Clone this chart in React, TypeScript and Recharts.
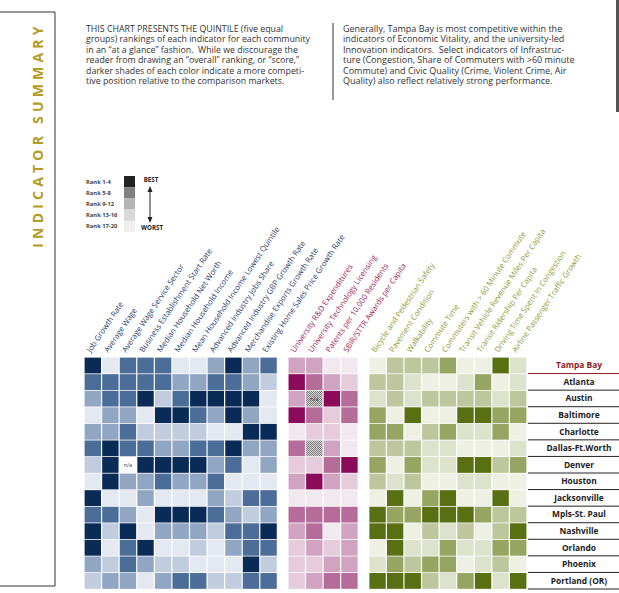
import React from "react";
import { BarChart, Bar, XAxis, YAxis } from "recharts";

const cities = [
  "Tampa Bay", "Atlanta", "Austin", "Baltimore", "Charlotte", "Dallas-Ft.Worth", "Denver",
  "Houston", "Jacksonville", "Mpls-St. Paul", "Nashville", "Orlando", "Phoenix", "Portland (OR)",
];

const economicLabels = [
  "Job Growth Rate", "Average Wage", "Average Wage Service Sector", "Business Establishment Start Rate",
  "Median Household Net Worth", "Median Household Income", "Mean Household Income Lowest Quintile",
  "Advanced Industry Jobs Share", "Advanced Industry GBP Growth Rate", "Merchandise Exports Growth Rate",
  "Existing Home Sales Price Growth Rate",
];
const innovationLabels = [
  "University R&D Expenditures", "University Technology Licensing",
  "Patents per 10,000 Residents", "SBIR/STTR Awards per Capita",
];
const infrastructureLabels = [
  "Bicycle and Pedestrian Safety", "Pavement Condition", "Walkability", "Commute Time",
  "Commuters with > 60 Minute Commute", "Transit Vehicle Revenue Miles Per Capita",
  "Transit Ridership Per Capita", "Driving Time Spent In Congestion", "Airline Passenger Traffic Growth",
];

// quintile: 1 = rank 1-4 (best) ... 5 = rank 17-20 (worst); "na" = n/a, "x" = no data
type Q = number | "na" | "x";
const economicRanks: Q[][] = [
  [1, 5, 2, 2, 2, 5, 5, 3, 1, 3, 2],
  [2, 2, 2, 2, 2, 3, 3, 2, 2, 3, 4],
  [3, 2, 2, 1, 4, 2, 1, 1, 1, 1, 5],
  [5, 3, 3, 5, 1, 1, 2, 3, 1, 3, 5],
  [3, 3, 2, 4, 4, 4, 4, 5, 5, 1, 1],
  [2, 1, 2, 2, 3, 3, 2, 2, 1, 3, 3],
  [4, 1, "na", 1, 1, 1, 1, 3, 2, 5, 3],
  [5, 1, 3, 3, 2, 3, 3, 2, 5, 5, 5],
  [1, 5, 5, 3, 5, 5, 5, 3, 4, 2, 2],
  [2, 2, 3, 5, 1, 1, 1, 2, 3, 4, 3],
  [1, 4, 1, 5, 3, 3, 3, 4, 2, 2, 1],
  [1, 5, 2, 1, 5, 5, 4, 5, 3, 2, 2],
  [3, 4, 2, 3, 4, 4, 5, 5, 5, 1, 4],
  [4, 3, 3, 5, 3, 2, 2, 4, 4, 2, 2],
];
const innovationRanks: Q[][] = [
  [3, 3, 5, 5],
  [1, 2, 3, 4],
  [3, "na", 1, 2],
  [1, 2, 4, 2],
  [5, 4, 4, 5],
  [2, "x", 3, 5],
  [4, 4, 2, 1],
  [3, 1, 3, 4],
  [5, 5, 5, 5],
  [2, 2, 2, 2],
  [3, 2, 5, 3],
  [4, 3, 4, 3],
  [4, 4, 3, 3],
  [4, 3, 2, 2],
];
const infrastructureRanks: Q[][] = [
  [5, 3, 3, 3, 2, 5, 5, 1, 4],
  [3, 3, 4, 5, 5, 4, 2, 5, 4],
  [4, 3, 4, 3, 3, 3, 3, 4, 3],
  [2, 5, 1, 5, 5, 1, 1, 2, 2],
  [2, 2, 5, 3, 2, 4, 4, 2, 5],
  [3, 3, 3, 4, 4, 5, 5, 5, 4],
  [2, 5, 2, 4, 4, 1, 1, 3, 2],
  [3, 4, 3, 5, 5, 4, 4, 5, 5],
  [5, 1, 5, 2, 1, 5, 5, 1, 5],
  [1, 2, 2, 1, 1, 1, 2, 3, 3],
  [1, 1, 5, 3, 4, 3, 5, 3, 1],
  [5, 1, 4, 4, 2, 4, 4, 2, 2],
  [4, 2, 3, 2, 2, 5, 4, 3, 5],
  [1, 1, 1, 3, 4, 2, 1, 4, 1],
];

const legendLabels = ["Rank 1-4", "Rank 5-8", "Rank 9-12", "Rank 13-16", "Rank 17-20"];
const legendColors = ["#222222", "#818181", "#b5b5b5", "#d9d9d9", "#efefef"];

const GROUP_GAP = 0.6;

const groups = [
  {
    id: "e", labels: economicLabels, ranks: economicRanks, text: "#1f416d", naFill: "#ffffff",
    shades: ["#0a2b56", "#4b6d97", "#90a6c3", "#c1cddf", "#e4e8f0"],
  },
  {
    id: "i", labels: innovationLabels, ranks: innovationRanks, text: "#a21a5c", naFill: "url(#hatch)",
    shades: ["#8b0b5a", "#b66c99", "#d0a3c0", "#e5cbdc", "#f2e8ef"],
  },
  {
    id: "f", labels: infrastructureLabels, ranks: infrastructureRanks, text: "#8c9b35", naFill: "url(#hatch)",
    shades: ["#5a6e12", "#97a562", "#bdc69c", "#dde2cc", "#eef0e4"],
  },
];

// columns in axis units, with a spacer between groups
type Col = { key: string; label: string; color: string; center: number; group: number; idx: number };
const columns: Col[] = [];
const spacers: string[] = [];
const barKeys: { key: string; spacer: boolean; col?: Col }[] = [];
let pos = 0;
groups.forEach((g, gi) => {
  if (gi > 0) {
    const sk = `gap${gi}`;
    spacers.push(sk);
    barKeys.push({ key: sk, spacer: true });
    pos += GROUP_GAP;
  }
  g.labels.forEach((label, idx) => {
    const c = { key: `${g.id}${idx}`, label, color: g.text, center: pos + 0.5, group: gi, idx };
    columns.push(c);
    barKeys.push({ key: c.key, spacer: false, col: c });
    pos += 1;
  });
});
const total = pos;

const tableData = cities.map((city, ri) => {
  const row: Record<string, any> = { city };
  spacers.forEach((s) => (row[s] = GROUP_GAP));
  columns.forEach((c) => {
    row[c.key] = 1;
    row[c.key + "_q"] = groups[c.group].ranks[ri][c.idx];
  });
  return row;
});

const FONT = "'Open Sans', 'DejaVu Sans', sans-serif";

const makeShape = (col: Col) => (props: any) => {
  const { x, y, width, height, payload } = props;
  const q: Q = payload[col.key + "_q"];
  const g = groups[col.group];
  const na = q === "na" || q === "x";
  const fill = na ? g.naFill : g.shades[(q as number) - 1];
  return (
    <g>
      <rect x={x + 0.6} y={y + 0.6} width={Math.max(0, width - 1.2)} height={Math.max(0, height - 1.2)} fill={fill} />
      {q === "na" && (
        <text x={x + width / 2} y={y + height / 2 + 2} textAnchor="middle" fontSize={5.5} fontFamily={FONT} fill="#333">
          n/a
        </text>
      )}
    </g>
  );
};

const renderColumnTick = (props: any) => {
  const { x, y, payload } = props;
  const v = payload?.value;
  const c = columns.find((col) => Math.abs(col.center - v) < 0.01);
  if (!c) return <g />;
  const tx = x - 2;
  const ty = y - 4;
  return (
    <text x={tx} y={ty} transform={`rotate(-56 ${tx} ${ty})`} fontSize={7.8} fontFamily={FONT} fill={c.color}>
      {c.label}
    </text>
  );
};

const renderCityTick = (props: any) => {
  const { x, y, payload } = props;
  const half = payload?.offset || 8.3;
  const home = payload.value === "Tampa Bay";
  const col = home ? "#8c1c1c" : "#222";
  return (
    <g>
      <text x={x + 52} y={y + 3} textAnchor="middle" fontSize={8.4} fontWeight={700} fontFamily={FONT} fill={col}>
        {payload.value}
      </text>
      <line x1={x + 1} x2={x + 93} y1={y + half} y2={y + half} stroke={col} strokeWidth={1} />
    </g>
  );
};

const para1 = [
  "THIS CHART PRESENTS THE QUINTILE (five equal",
  "groups) rankings of each indicator for each community",
  "in an \u201cat a glance\u201d fashion.  While we discourage the",
  "reader from drawing an \u201coverall\u201d ranking, or \u201cscore,\u201d",
  "darker shades of each color indicate a more competi-",
  "tive position relative to the comparison markets.",
];
const para2 = [
  "Generally, Tampa Bay is most competitive within the",
  "indicators of Economic Vitality, and the university-led",
  "Innovation indicators.  Select indicators of Infrastruc-",
  "ture (Congestion, Share of Commuters with >60 minute",
  "Commute) and Civic Quality (Crime, Violent Crime, Air",
  "Quality) also reflect relatively strong performance.",
];

function Decorations() {
  return (
    <svg width={619} height={593} style={{ position: "absolute", left: 0, top: 0 }}>
      <polyline points="0,12 55,12 55,586 0,586" fill="none" stroke="#333" strokeWidth={1} />
      <rect x={616} y={0} width={3} height={112} fill="#555" />
      <text
        x={43}
        y={135}
        transform="rotate(-90 43 135)"
        textAnchor="middle"
        fontSize={14}
        fontWeight={700}
        letterSpacing={4.2}
        fontFamily={FONT}
        fill="#b59c1e"
      >
        INDICATOR SUMMARY
      </text>
      {para1.map((t, i) => (
        <text key={t} x={86} y={32 + i * 10.4} fontSize={8.8} fontFamily={FONT} fill="#333" style={{ whiteSpace: "pre" }}>
          {t}
        </text>
      ))}
      <line x1={333} x2={333} y1={23} y2={100} stroke="#333" strokeWidth={1} />
      {para2.map((t, i) => (
        <text key={t} x={343} y={32 + i * 10.4} fontSize={9} fontFamily={FONT} fill="#333" style={{ whiteSpace: "pre" }}>
          {t}
        </text>
      ))}
      {legendLabels.map((t, i) => (
        <g key={t}>
          <text x={86} y={183.5 + i * 11.2} fontSize={5.8} fontWeight={700} fontFamily={FONT} fill="#444">
            {t}
          </text>
          <rect x={124} y={176 + i * 11.2} width={11} height={11.2} fill={legendColors[i]} />
        </g>
      ))}
      <text x={151} y={182} textAnchor="middle" fontSize={6.2} fontWeight={700} fontFamily={FONT} fill="#222">
        BEST
      </text>
      <text x={152} y={230} textAnchor="middle" fontSize={6.2} fontWeight={700} fontFamily={FONT} fill="#222">
        WORST
      </text>
      <line x1={150} x2={150} y1={189} y2={220} stroke="#222" strokeWidth={1} />
      <polygon points="150,186 147.5,192 152.5,192" fill="#222" />
      <polygon points="150,223 147.5,217 152.5,217" fill="#222" />
    </svg>
  );
}

export default function App() {
  return (
    <div style={{ position: "absolute", left: 0, top: 0, width: 619, height: 593, background: "#fff" }}>
      <Decorations />
      <div style={{ position: "absolute", left: 0, top: 0 }}>
        <BarChart
          width={619}
          height={593}
          data={tableData}
          layout="vertical"
          barCategoryGap={0}
          barGap={0}
          margin={{ top: 356, right: 0, bottom: 4, left: 84 }}
        >
          <defs>
            <pattern id="hatch" width={2} height={2} patternUnits="userSpaceOnUse">
              <rect width={2} height={2} fill="#d8d8d8" />
              <rect width={1} height={1} fill="#7a7a7a" />
              <rect x={1} y={1} width={1} height={1} fill="#7a7a7a" />
            </pattern>
          </defs>
          <XAxis
            type="number"
            orientation="top"
            domain={[0, total]}
            ticks={columns.map((c) => c.center)}
            interval={0}
            height={1}
            axisLine={false}
            tickLine={false}
            tickSize={0}
            tickMargin={0}
            tick={renderColumnTick}
            allowDataOverflow
          />
          <YAxis
            type="category"
            dataKey="city"
            orientation="right"
            width={92}
            interval={0}
            axisLine={false}
            tickLine={false}
            tickSize={0}
            tickMargin={0}
            tick={renderCityTick}
          />
          {barKeys.map((b) =>
            b.spacer ? (
              <Bar key={b.key} dataKey={b.key} stackId="s" fill="none" isAnimationActive={false} />
            ) : (
              <Bar
                key={b.key}
                dataKey={b.key}
                stackId="s"
                isAnimationActive={false}
                shape={makeShape(b.col as Col)}
              />
            )
          )}
        </BarChart>
      </div>
    </div>
  );
}
